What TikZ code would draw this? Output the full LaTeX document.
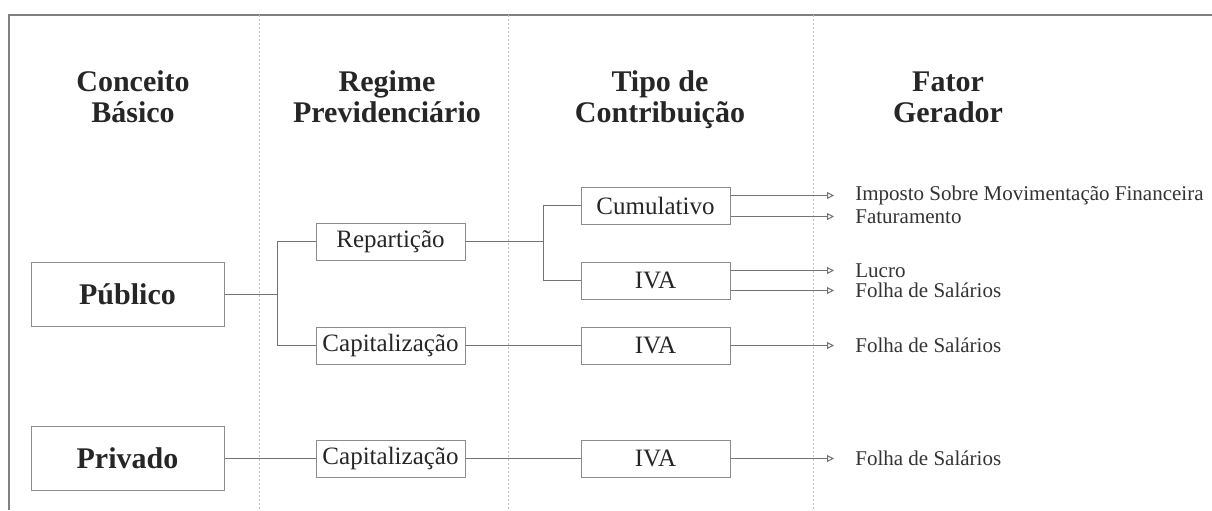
\documentclass[tikz,border=0pt]{standalone}
\usepackage{fontspec}
\setmainfont{Liberation Serif}
\usetikzlibrary{positioning, arrows.meta}

\begin{document}
\begin{tikzpicture}[x=0.5pt, y=-0.5pt]

\tikzstyle{colhead} = [align=center, font=\fontsize{15}{15.5}\selectfont\bfseries, text=black!85];
\tikzstyle{bigbox} = [rectangle, draw=black!45, line width=0.5pt, minimum width=96.5pt, minimum height=32pt, text=black!85, font=\fontsize{15}{18}\selectfont\bfseries];
\tikzstyle{tipobox} = [rectangle, draw=black!45, line width=0.5pt, minimum width=74.5pt, minimum height=18.5pt, inner sep=0pt, text=black!85, font=\fontsize{12.5}{15}\selectfont];
\tikzstyle{fator} = [anchor=west, inner sep=0pt, font=\fontsize{10.5}{12}\selectfont, text=black!80];
\tikzstyle{link} = [draw=black!55, line width=0.5pt];
\tikzstyle{farrow} = [link, -{Triangle[open, length=3.5pt, width=3.5pt]}];
\tikzstyle{divider} = [draw=black!25, line width=0.4pt, dash pattern=on 1pt off 1pt];

\useasboundingbox (0,0) rectangle (1212,510);

% frame and columns
\draw[draw=black!50, line width=0.7pt] (9,510) -- (9,15) -- (1212,15);
\foreach \x in {259, 508, 813}
  \draw[divider] (\x,15) -- (\x,510);

% headers
\node[colhead] (hconc) at (133,101) {Conceito\strut\\Básico\strut};
\node[colhead] (hreg) at (387,101) {Regime\strut\\Previdenciário\strut};
\node[colhead] (htipo) at (660,101) {Tipo de\strut\\Contribuição\strut};
\node[colhead] (hfat) at (948,101) {Fator\strut\\Gerador\strut};

% boxes
\node[bigbox] (pub) at (127.5,294) {Público};
\node[bigbox] (priv) at (127.5,458.5) {Privado};
\node[tipobox] (rep) at (390.5,241.5) {Repartição};
\node[tipobox] (cap1) at (390.5,345.5) {Capitalização};
\node[tipobox] (cap2) at (390.5,458.5) {Capitalização};
\node[tipobox] (cum) at (655.5,205.5) {Cumulativo};
\node[tipobox] (iva1) at (655.5,280.5) {IVA};
\node[tipobox] (iva2) at (655.5,345.5) {IVA};
\node[tipobox] (iva3) at (655.5,458.5) {IVA};

% fator gerador
\node[fator] (f1) at (855,195.5) {Imposto Sobre Movimentação Financeira};
\node[fator] (f2) at (855,216.5) {Faturamento};
\node[fator] (f3) at (855,270.5) {Lucro};
\node[fator] (f4) at (855,290.5) {Folha de Salários};
\node[fator] (f5) at (855,345.5) {Folha de Salários};
\node[fator] (f6) at (855,458.5) {Folha de Salários};

% connectors
\coordinate (fork1) at (277,294);
\coordinate (fork2) at (543,241.5);
\draw[link] (pub.east) -- (fork1);
\draw[link] (fork1) |- (rep.west);
\draw[link] (fork1) |- (cap1.west);
\draw[link] (rep.east) -- (fork2);
\draw[link] (fork2) |- (cum.west);
\draw[link] (fork2) |- (iva1.west);
\draw[link] (cap1.east) -- (iva2.west);
\draw[link] (priv.east) -- (cap2.west);
\draw[link] (cap2.east) -- (iva3.west);

\draw[farrow] (cum.east |- f1) -- ([xshift=-10.5pt]f1.west);
\draw[farrow] (cum.east |- f2) -- ([xshift=-10.5pt]f2.west);
\draw[farrow] (iva1.east |- f3) -- ([xshift=-10.5pt]f3.west);
\draw[farrow] (iva1.east |- f4) -- ([xshift=-10.5pt]f4.west);
\draw[farrow] (iva2.east) -- ([xshift=-10.5pt]f5.west);
\draw[farrow] (iva3.east) -- ([xshift=-10.5pt]f6.west);

\end{tikzpicture}
\end{document}
